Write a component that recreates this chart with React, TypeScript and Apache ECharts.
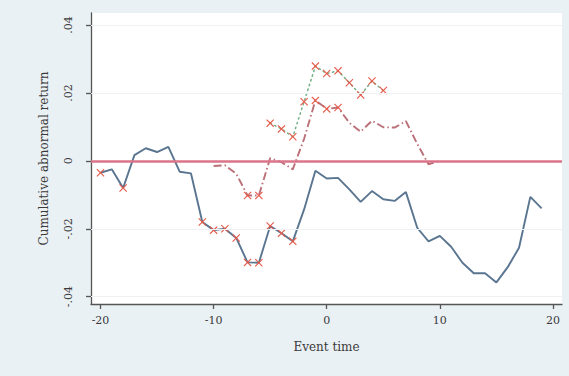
import React, { useEffect, useRef } from "react";
import * as echarts from "echarts";

// Event times
const eventAll = [-20, -19, -18, -17, -16, -15, -14, -13, -12, -11, -10, -9, -8, -7, -6, -5, -4, -3, -2, -1,
  0, 1, 2, 3, 4, 5, 6, 7, 8, 9, 10, 11, 12, 13, 14, 15, 16, 17, 18, 19];
const carAll = [-0.0035, -0.0025, -0.008, 0.0017, 0.0037, 0.0026, 0.0041, -0.0032, -0.0037, -0.018,
  -0.0204, -0.02, -0.0227, -0.0299, -0.03, -0.0192, -0.0213, -0.0237, -0.0143, -0.0029,
  -0.0052, -0.005, -0.0084, -0.0121, -0.0089, -0.0113, -0.0118, -0.0092, -0.0197, -0.0237,
  -0.0221, -0.0253, -0.03, -0.0331, -0.0331, -0.0358, -0.0313, -0.0256, -0.0106, -0.014];
const markedAll = [-20, -18, -11, -10, -9, -8, -7, -6, -5, -4, -3];

const eventMid = [-10, -9, -8, -7, -6, -5, -4, -3, -2, -1, 0, 1, 2, 3, 4, 5, 6, 7, 8, 9, 10];
const carMid = [-0.0015, -0.0013, -0.0038, -0.0102, -0.0102, 0.0008, -0.0004, -0.0025, 0.0065, 0.0178,
  0.0153, 0.0157, 0.0112, 0.0086, 0.0118, 0.0099, 0.0098, 0.0117, 0.005, -0.001, 0.0];
const markedMid = [-7, -6, -1, 0, 1];

const eventShort = [-5, -4, -3, -2, -1, 0, 1, 2, 3, 4, 5];
const carShort = [0.0111, 0.0094, 0.0071, 0.0174, 0.0279, 0.0257, 0.0265, 0.023, 0.0194, 0.0235, 0.0207];
const markedShort = [-5, -4, -3, -2, -1, 0, 1, 2, 3, 4, 5];

const xTicks = [-20, -10, 0, 10, 20];
const yTicks = [-0.04, -0.02, 0, 0.02, 0.04];
const yGridLines = [-0.04, -0.02, 0.02, 0.04];

const X_MARK = "path://M1,0 L5,4 L9,0 L10,1 L6,5 L10,9 L9,10 L5,6 L1,10 L0,9 L4,5 L0,1 Z";
const FONT = "DejaVu Serif";

function build(xs: number[], ys: number[], marked: number[]) {
  return xs.map((x, i) => ({
    value: [x, ys[i]],
    symbol: marked.indexOf(x) >= 0 ? X_MARK : "none",
  }));
}

function fmtY(v: number) {
  if (Math.abs(v) < 1e-9) return "0";
  const s = Math.abs(v).toFixed(2).replace(/^0/, "");
  return (v < 0 ? "-" : "") + s;
}

export default function App() {
  const ref = useRef<HTMLDivElement>(null);
  useEffect(() => {
    document.body.style.margin = "0";
    const chart = echarts.init(ref.current!, null, { renderer: "svg" });
    chart.setOption({
      animation: false,
      backgroundColor: "#eaf1f4",
      grid: {
        left: 91, right: 7, top: 13, bottom: 72,
        show: true, backgroundColor: "#ffffff", borderWidth: 0,
      },
      xAxis: {
        type: "value",
        min: -20.84,
        max: 20.8,
        name: "Event time",
        nameLocation: "middle",
        nameGap: 37,
        nameTextStyle: { fontFamily: FONT, fontSize: 12, color: "#3a3a3a" },
        axisLine: { show: true, onZero: false, lineStyle: { color: "#555", width: 1.3 } },
        axisTick: { show: true, length: 5, customValues: xTicks, lineStyle: { color: "#555", width: 1.3 } },
        axisLabel: {
          customValues: xTicks, margin: 11, fontFamily: FONT, fontSize: 11, color: "#3a3a3a",
          formatter: (v: number) => (v < 0 ? "-" + Math.abs(v) : String(v)),
        },
        splitLine: { show: false },
      },
      yAxis: {
        type: "value",
        min: -0.04215,
        max: 0.04353,
        name: "Cumulative abnormal return",
        nameLocation: "middle",
        nameGap: 41,
        nameRotate: 90,
        nameTextStyle: { fontFamily: FONT, fontSize: 12, color: "#3a3a3a" },
        axisLine: { show: true, onZero: false, lineStyle: { color: "#555", width: 1.3 } },
        axisTick: { show: true, length: 5, customValues: yTicks, lineStyle: { color: "#555", width: 1.3 } },
        axisLabel: {
          customValues: yTicks, rotate: 90, margin: 17, fontFamily: FONT, fontSize: 11, color: "#3a3a3a",
          formatter: fmtY,
        },
        splitLine: { show: false },
      },
      series: [
        {
          type: "line",
          data: [],
          silent: true,
          z: 1,
          markLine: {
            silent: true,
            symbol: "none",
            label: { show: false },
            data: [
              ...yGridLines.map((v) => ({ yAxis: v, lineStyle: { color: "#eef2f5", width: 1, type: "solid" } })),
              { yAxis: 0, lineStyle: { color: "#db7489", width: 2.5, type: "solid" } },
            ],
          },
        },
        {
          type: "line",
          data: build(eventAll, carAll, markedAll),
          z: 3,
          symbolSize: 8,
          showSymbol: true,
          lineStyle: { color: "#5a7590", width: 1.9 },
          itemStyle: { color: "#e65a4a" },
        },
        {
          type: "line",
          data: build(eventMid, carMid, markedMid),
          z: 3,
          symbolSize: 8,
          showSymbol: true,
          lineStyle: { color: "#bb7078", width: 1.9, type: [8, 3, 1.5, 3] },
          itemStyle: { color: "#e65a4a" },
        },
        {
          type: "line",
          data: build(eventShort, carShort, markedShort),
          z: 3,
          symbolSize: 8,
          showSymbol: true,
          lineStyle: { color: "#72b085", width: 1.5, type: [1.5, 3.5], cap: "round" },
          itemStyle: { color: "#e65a4a" },
        },
      ],
    });
    return () => chart.dispose();
  }, []);
  return <div ref={ref} style={{ width: 569, height: 376 }} />;
}
